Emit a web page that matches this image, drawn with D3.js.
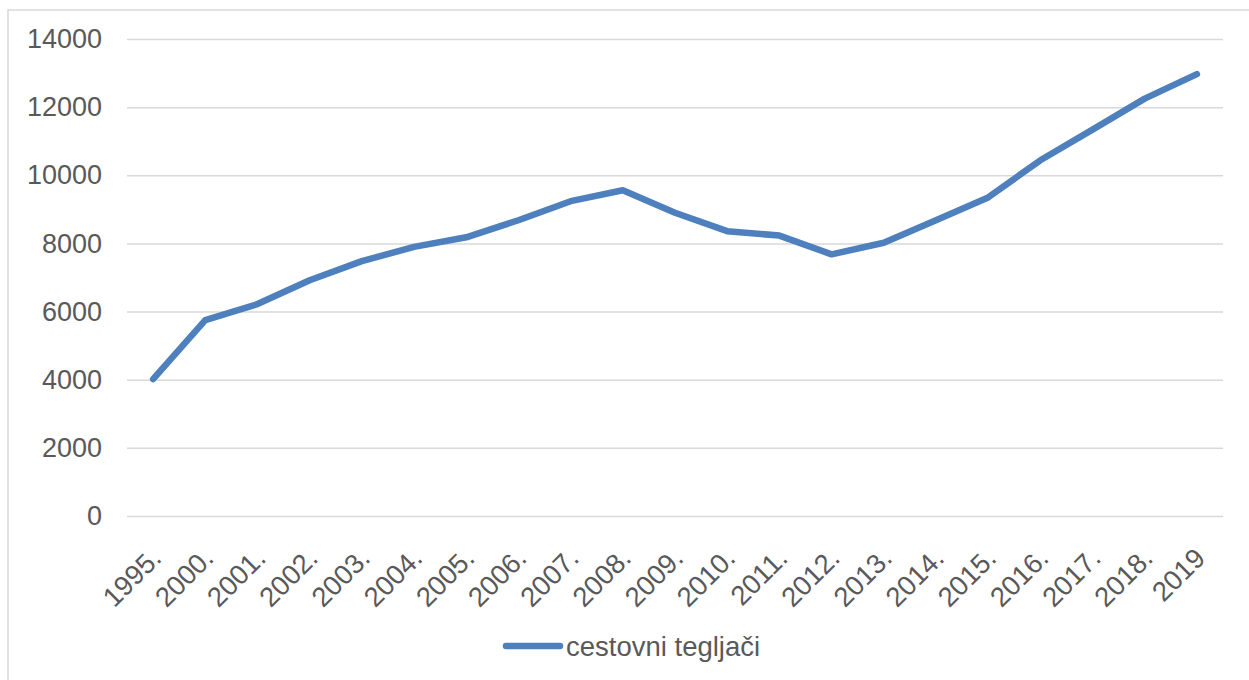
<!DOCTYPE html>
<html>
<head>
<meta charset="utf-8">
<script src="https://cdn.jsdelivr.net/npm/d3@7/dist/d3.min.js"></script>
<style>
  html, body { margin: 0; padding: 0; background: #fff; }
  svg { display: block; font-family: "Liberation Sans", Arial, sans-serif; }
</style>
</head>
<body>
<svg id="chart" width="1249" height="680"></svg>
<script>
// Road tractors (cestovni tegljači) by year
const years = ["1995.", "2000.", "2001.", "2002.", "2003.", "2004.", "2005.", "2006.", "2007.", "2008.",
               "2009.", "2010.", "2011.", "2012.", "2013.", "2014.", "2015.", "2016.", "2017.", "2018.", "2019"];
const tractors = [4020, 5750, 6220, 6920, 7480, 7900, 8180, 8680, 9240, 9560,
                  8900, 8360, 8230, 7680, 8020, 8680, 9350, 10440, 11340, 12250, 12970];
const yTicks = [0, 2000, 4000, 6000, 8000, 10000, 12000, 14000];
const seriesName = "cestovni tegljači";

const W = 1249, H = 680;
const plot = { left: 127, right: 1223, top: 39, bottom: 516 };
const lineColor = "#4e80bd";
const textColor = "#595959";
const gridColor = "#d9d9d9";

const svg = d3.select("#chart");

// chart area frame
svg.append("rect")
  .attr("x", 8).attr("y", 10)
  .attr("width", W + 20).attr("height", H + 20)
  .attr("fill", "#fff")
  .attr("stroke", gridColor).attr("stroke-width", 1.5);

const x = d3.scaleBand().domain(years).range([plot.left, plot.right]);
const y = d3.scaleLinear().domain([0, 14000]).range([plot.bottom, plot.top]);

// horizontal gridlines + y labels
const yAxis = d3.axisLeft(y).tickValues(yTicks).tickSize(-(plot.right - plot.left)).tickPadding(25).tickFormat(d3.format("d"));
const gy = svg.append("g").attr("transform", `translate(${plot.left},0)`).call(yAxis);
gy.select(".domain").remove();
gy.selectAll(".tick line").attr("stroke", gridColor).attr("stroke-width", 1.5);
gy.selectAll(".tick text").attr("fill", textColor).attr("font-size", 27);

// x labels, rotated
const gx = svg.append("g");
gx.selectAll("text")
  .data(years)
  .join("text")
  .attr("transform", d => `translate(${x(d) + x.bandwidth() / 2 - 4},${plot.bottom + 30}) rotate(-45)`)
  .attr("text-anchor", "end")
  .attr("dy", "0.71em")
  .attr("fill", textColor)
  .attr("font-size", 27.5)
  .text(d => d);

// series line
const line = d3.line()
  .x((d, i) => x(years[i]) + x.bandwidth() / 2)
  .y(d => y(d));

svg.append("path")
  .datum(tractors)
  .attr("d", line)
  .attr("fill", "none")
  .attr("stroke", lineColor)
  .attr("stroke-width", 6.5)
  .attr("stroke-linejoin", "round")
  .attr("stroke-linecap", "round");

// legend
const lg = svg.append("g").attr("transform", "translate(506,646)");
lg.append("line")
  .attr("x1", 0).attr("x2", 54).attr("y1", 0).attr("y2", 0)
  .attr("stroke", lineColor).attr("stroke-width", 6.5).attr("stroke-linecap", "round");
lg.append("text")
  .attr("x", 60).attr("y", 0).attr("dy", "0.35em")
  .attr("fill", textColor).attr("font-size", 27.5)
  .text(seriesName);
</script>
</body>
</html>
